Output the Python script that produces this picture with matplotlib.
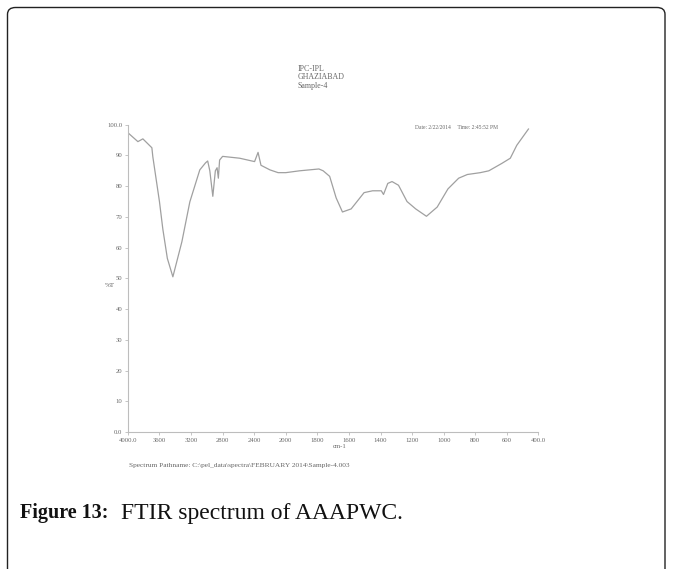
import numpy as np
import matplotlib
matplotlib.use("Agg")
from matplotlib import pyplot as plt
from matplotlib.patches import FancyBboxPatch

plt.rcParams['font.family'] = ['Liberation Serif', 'DejaVu Serif']

# spectrum
wavenumber = [4000, 3873, 3810, 3747, 3696, 3684, 3600, 3557, 3500, 3430,
              3316, 3215, 3089, 3016, 2989, 2962, 2924, 2892, 2870, 2854,
              2838, 2800, 2584, 2395, 2351, 2314, 2200, 2097, 2000, 1913,
              1790, 1763, 1722, 1681, 1641, 1586, 1504, 1450, 1395, 1381,
              1354, 1327, 1286, 1232, 1177, 1109, 1041, 973, 905, 850,
              768, 714, 632, 578, 537, 463]
transmittance = [97.4, 94.5, 95.4, 93.8, 92.5, 89.6, 75.0, 66.0, 56.5, 50.5,
                 61.9, 74.9, 85.3, 87.6, 88.2, 85.0, 76.7, 85.0, 86.0, 82.6,
                 88.5, 89.7, 89.1, 88.0, 91.0, 86.8, 85.3, 84.4, 84.4, 85.0,
                 85.6, 85.0, 83.2, 76.2, 71.6, 72.6, 77.9, 78.5, 78.5, 77.3,
                 80.9, 81.5, 80.3, 75.0, 72.6, 70.2, 73.2, 79.1, 82.6, 83.8,
                 84.4, 85.0, 87.4, 89.1, 93.3, 98.6]

x_ticks = [4000, 3600, 3200, 2800, 2400, 2000, 1800, 1600, 1400, 1200,
           1000, 800, 600, 400]
x_labels = ["4000.0", "3600", "3200", "2800", "2400", "2000", "1800", "1600",
            "1400", "1200", "1000", "800", "600", "400.0"]
y_ticks = [0, 10, 20, 30, 40, 50, 60, 70, 80, 90, 100]
y_labels = ["0.0", "10", "20", "30", "40", "50", "60", "70", "80", "90", "100.0"]

header = "IPC-IPL\nGHAZIABAD\nSample-4"
stamp = "Date: 2/22/2014     Time: 2:45:52 PM"
pathname = "Spectrum Pathname: C:\\pel_data\\spectra\\FEBRUARY 2014\\Sample-4.003"

ink = "#666666"
trace = "#a0a0a0"


# half scale above 2000 cm-1, like the instrument print-out
def fwd(x):
    x = np.asarray(x, dtype=float)
    return np.where(x > 2000, 2000 + (x - 2000) / 2., x)


def inv(y):
    y = np.asarray(y, dtype=float)
    return np.where(y > 2000, 2000 + (y - 2000) * 2., y)


fig = plt.figure(figsize=(6.73, 5.69), dpi=100)
ax = fig.add_axes([0.190, 0.2408, 0.610, 0.540])

ax.plot(wavenumber, transmittance, color=trace, lw=0.9)
ax.set_xscale('function', functions=(fwd, inv))
ax.set_xlim(4000, 400)
ax.set_ylim(0, 100)

ax.set_xticks(x_ticks)
ax.set_xticklabels(x_labels)
ax.set_yticks(y_ticks)
ax.set_yticklabels(y_labels)
ax.tick_params(axis='both', length=2, width=0.6, color="#bbbbbb",
               labelsize=4.8, labelcolor=ink, pad=2)

for s in ['top', 'right']:
    ax.spines[s].set_visible(False)
for s in ['left', 'bottom']:
    ax.spines[s].set_color("#bdbdbd")
    ax.spines[s].set_linewidth(0.8)

ax.set_xlabel("cm-1", fontsize=4.8, color=ink, labelpad=2)
ax.set_ylabel("%T", fontsize=5, color=ink, rotation=0, labelpad=6)
ax.yaxis.set_label_coords(-0.045, 0.47)
ax.xaxis.set_label_coords(0.515, -0.04)

# header, stamp and path name as printed on the sheet
fig.text(298 / 673, 1 - 65 / 569, header, fontsize=5.7, color=ink,
         va='top', ha='left', linespacing=1.05)
fig.text(415 / 673, 1 - 128 / 569, stamp, fontsize=4, color=ink,
         va='center', ha='left')
fig.text(129 / 673, 1 - 465 / 569, pathname, fontsize=5.3, color=ink,
         va='center', ha='left')

# caption
fig.text(20 / 673, 1 - 513 / 569, "Figure 13:", fontsize=14.5,
         fontweight='bold', color='#111111', va='center', ha='left')
fig.text(121 / 673, 1 - 513 / 569, "FTIR spectrum of AAAPWC.", fontsize=17,
         color='#111111', va='center', ha='left')

# frame around the figure block
frame = FancyBboxPatch((7.5 / 673, -0.1), (665 - 7.5) / 673, 1.1 - 7.5 / 569,
                       boxstyle="round,pad=0,rounding_size=0.012",
                       transform=fig.transFigure, fill=False,
                       edgecolor="#222222", lw=1.0)
fig.patches.append(frame)

fig.savefig("out.png", dpi=100)
